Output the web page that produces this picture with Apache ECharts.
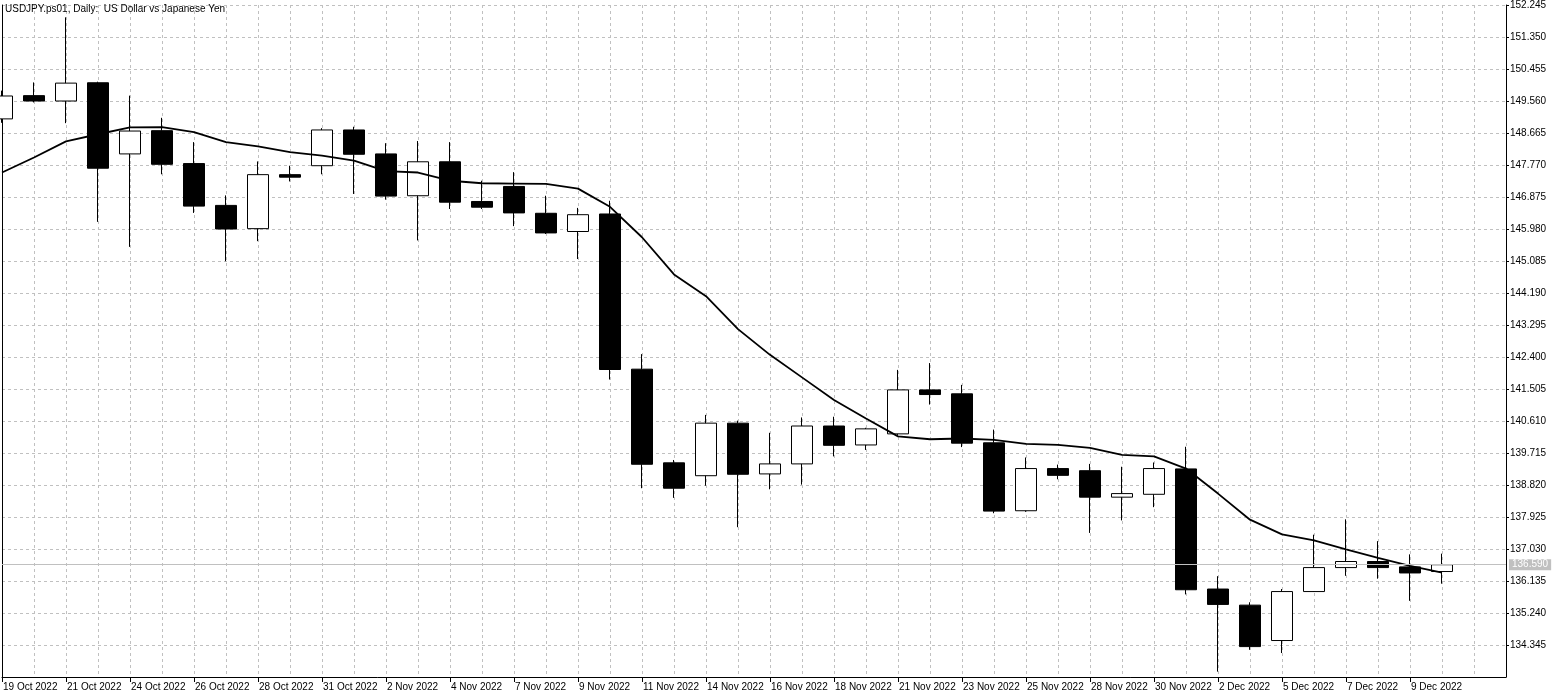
<!DOCTYPE html>
<html><head><meta charset="utf-8">
<script src="https://cdn.jsdelivr.net/npm/echarts@6/dist/echarts.min.js"></script>
<style>html,body{margin:0;padding:0;background:#fff}#c{width:1558px;height:698px}</style>
</head><body><div id="c"></div>
<script>
const categories = ['19 Oct 2022','20 Oct 2022','21 Oct 2022','23 Oct 2022','24 Oct 2022','25 Oct 2022','26 Oct 2022','27 Oct 2022','28 Oct 2022','30 Oct 2022',
  '31 Oct 2022','1 Nov 2022','2 Nov 2022','3 Nov 2022','4 Nov 2022','6 Nov 2022','7 Nov 2022','8 Nov 2022','9 Nov 2022','10 Nov 2022',
  '11 Nov 2022','13 Nov 2022','14 Nov 2022','15 Nov 2022','16 Nov 2022','17 Nov 2022','18 Nov 2022','20 Nov 2022','21 Nov 2022','22 Nov 2022',
  '23 Nov 2022','24 Nov 2022','25 Nov 2022','27 Nov 2022','28 Nov 2022','29 Nov 2022','30 Nov 2022','1 Dec 2022','2 Dec 2022','4 Dec 2022',
  '5 Dec 2022','6 Dec 2022','7 Dec 2022','8 Dec 2022','9 Dec 2022','12 Dec 2022','13 Dec 2022','14 Dec 2022'];
const tickLabels = ['19 Oct 2022','21 Oct 2022','24 Oct 2022','26 Oct 2022','28 Oct 2022','31 Oct 2022','2 Nov 2022','4 Nov 2022',
  '7 Nov 2022','9 Nov 2022','11 Nov 2022','14 Nov 2022','16 Nov 2022','18 Nov 2022','21 Nov 2022','23 Nov 2022',
  '25 Nov 2022','28 Nov 2022','30 Nov 2022','2 Dec 2022','5 Dec 2022','7 Dec 2022','9 Dec 2022'];
const opens  = [149.06,149.71,149.56,150.07,148.08,148.73,147.81,146.64,145.99,147.50,147.75,148.75,148.08,146.91,147.86,146.75,147.17,146.42,145.91,146.40,
  142.06,139.44,139.08,140.55,139.13,139.41,140.47,139.94,140.25,141.48,141.37,140.00,138.10,139.28,139.22,138.48,138.56,139.27,135.91,135.46,
  134.47,135.84,136.51,136.68,136.53,136.40];
const closes = [149.70,149.56,150.06,147.68,148.72,147.79,146.62,145.98,147.50,147.43,148.75,148.07,146.90,147.86,146.73,146.59,146.43,145.87,146.38,142.05,
  139.40,138.73,140.55,139.12,139.41,140.47,139.93,140.39,141.48,141.35,139.99,138.09,139.28,139.09,138.48,138.58,139.28,135.89,135.48,134.30,
  135.84,136.51,136.68,136.51,136.36,136.59];
const lows   = [148.95,149.52,148.94,146.18,145.48,147.51,146.43,145.08,145.64,147.31,147.51,146.96,146.80,145.66,146.54,146.54,146.06,145.84,145.14,141.77,
  138.73,138.46,138.80,137.64,138.70,138.83,139.62,139.80,140.22,141.07,139.88,138.03,138.07,138.98,137.48,137.83,138.20,135.76,133.60,134.21,
  134.12,135.83,136.28,136.20,135.58,136.06];
const highs  = [149.85,150.08,151.90,150.10,149.71,149.09,148.41,146.92,147.87,147.75,148.80,148.84,148.38,148.44,148.41,147.33,147.57,146.91,146.57,146.77,
  142.48,139.52,140.78,140.62,140.28,140.71,140.73,140.42,142.04,142.23,141.62,140.37,139.59,139.39,139.41,139.33,139.45,139.89,136.27,135.54,
  135.91,137.43,137.86,137.25,136.88,136.90];
const maValues = [147.56,147.98,148.43,148.63,148.82,148.83,148.69,148.41,148.29,148.13,148.03,147.89,147.60,147.56,147.33,147.26,147.25,147.24,147.11,146.60,
  145.75,144.71,144.10,143.18,142.46,141.83,141.20,140.68,140.18,140.10,140.12,140.08,139.97,139.94,139.86,139.66,139.62,139.28,138.58,137.85,
  137.44,137.27,137.02,136.78,136.56,136.37];
const lastPrice = 136.590;
const yMin = 133.450, yMax = 152.245, yStep = 0.895;
const titleText = 'USDJPY.ps01, Daily:  US Dollar vs Japanese Yen';

const candleData = opens.map((o, i) => [o, closes[i], lows[i], highs[i]]);
const FONT = 'Liberation Sans';
const labelIdx = (i) => i % 2 === 0 && i / 2 < tickLabels.length;

const chart = echarts.init(document.getElementById('c'));
chart.setOption({
  animation: false,
  backgroundColor: '#ffffff',
  title: { text: titleText, left: 5, top: 4, padding: 0, textStyle: { fontFamily: FONT, fontSize: 10, fontWeight: 'normal', color: '#000' } },
  grid: { left: 2, right: 52, top: 3, bottom: 21 },
  xAxis: {
    type: 'category', data: categories, boundaryGap: false,
    axisLine: { show: true, lineStyle: { color: '#000', width: 1 } },
    axisTick: { show: true, inside: false, length: 5, interval: (i) => labelIdx(i), lineStyle: { color: '#000' } },
    axisLabel: { interval: (i) => labelIdx(i), formatter: (v, i) => labelIdx(i) ? tickLabels[i / 2] : '',
      align: 'left', margin: 5, fontFamily: FONT, fontSize: 10, color: '#000', padding: [0, 0, 0, 1] },
    splitLine: { show: true, interval: 0, lineStyle: { color: '#c0c0c0', type: [3, 3], width: 1 } }
  },
  yAxis: [{
    type: 'value', position: 'right', min: yMin, max: yMax, interval: yStep, scale: true,
    axisLine: { show: true, lineStyle: { color: '#000', width: 1 } },
    axisTick: { show: true, length: 3, lineStyle: { color: '#000' } },
    axisLabel: { showMinLabel: false, margin: 4, formatter: (v) => v.toFixed(3), fontFamily: FONT, fontSize: 10, color: '#000' },
    splitLine: { show: true, lineStyle: { color: '#c0c0c0', type: [3, 3], width: 1 } }
  }, {
    type: 'value', position: 'left', min: yMin, max: yMax, interval: yStep,
    axisLine: { show: true, lineStyle: { color: '#000', width: 1 } },
    axisTick: { show: false }, axisLabel: { show: false }, splitLine: { show: false }
  }],
  series: [{
    type: 'candlestick', name: 'USDJPY', data: candleData, barWidth: 22, clip: true,
    itemStyle: { color: '#ffffff', color0: '#000000', borderColor: '#000000', borderColor0: '#000000', borderWidth: 1 },
    markLine: {
      silent: true, symbol: ['none', 'none'], animation: false,
      lineStyle: { color: '#c0c0c0', type: 'solid', width: 1 },
      label: { show: true, position: 'end', distance: 3, formatter: () => lastPrice.toFixed(3),
        color: '#ffffff', backgroundColor: '#c0c0c0', fontFamily: FONT, fontSize: 10, padding: [1, 3, 0, 3] },
      data: [{ yAxis: lastPrice }]
    },
    z: 2
  }, {
    type: 'line', name: 'MA', data: maValues, symbol: 'none', smooth: false,
    lineStyle: { color: '#000', width: 1.8 }, z: 3
  }]
});
</script></body></html>
